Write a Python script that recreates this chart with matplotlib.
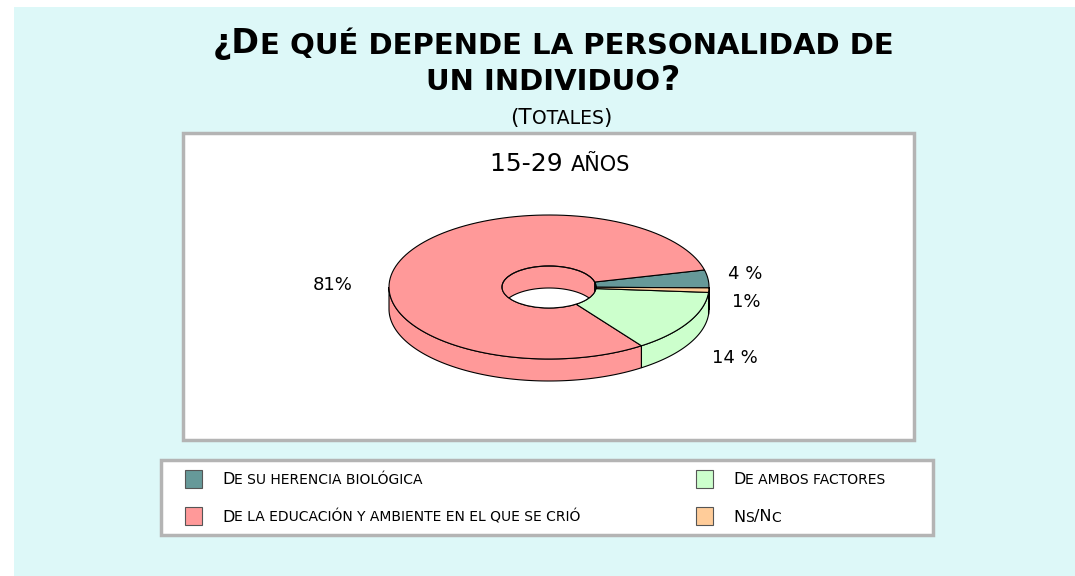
"""Donut chart: ¿De qué depende la personalidad de un individuo? (15-29 años)"""

import numpy as np
import matplotlib
matplotlib.use("Agg")
import matplotlib.pyplot as plt
from matplotlib.patches import Polygon, Rectangle, Ellipse
from matplotlib.offsetbox import TextArea, HPacker, AnnotationBbox

# ---- data ----
categories = [
    "De su herencia biológica",
    "De la educación y ambiente en el que se crió",
    "De ambos factores",
    "Ns/Nc",
]
values = [4, 81, 14, 1]
pct_labels = ["4 %", "81%", "14 %", "1%"]
colors = ["#669999", "#ff9999", "#ccffcc", "#ffcc99"]

title_lines = ["¿De qué depende la personalidad de", "un individuo?"]
subtitle = "(Totales)"
group_title = "15-29 años"

# ---- layout (figure pixels, y down) ----
W, H = 1075, 576
BG = "#ddf8f8"
BORDER = "#b4b4b4"
CX, CY = 549, 287          # pie centre (top face)
RX, RY = 160, 72           # outer ellipse
HX, HY = 47, 21            # hole ellipse
DEPTH = 22
START = -0.7               # degrees
LABEL_POS = [(745, 274), (333, 285), (735, 358), (746, 302)]
FONT = "DejaVu Sans"


def smallcaps(ax, text, x, y, big, small, weight="normal", ha="center"):
    """Draw text in small caps as a row of text runs."""
    runs = []
    for ch in text:
        is_small = ch.islower()
        size = small if is_small else big
        if ch == " " and runs:
            size = runs[-1][1]
        if runs and runs[-1][1] == size:
            runs[-1][0] += ch.upper()
        else:
            runs.append([ch.upper(), size])
    kids = [TextArea(t, textprops=dict(size=s, family=FONT, weight=weight, color="black"))
            for t, s in runs]
    box = HPacker(children=kids, align="baseline", pad=0, sep=0)
    align = {"center": 0.5, "left": 0.0}[ha]
    ab = AnnotationBbox(box, (x, y), xycoords="data", frameon=False,
                        box_alignment=(align, 0.5), pad=0)
    ax.add_artist(ab)


def arc(a0, a1, rx, ry, dy=0.0, n=120):
    t = np.radians(np.linspace(a0, a1, n))
    return np.column_stack([CX + rx * np.cos(t), CY - ry * np.sin(t) + dy])


fig = plt.figure(figsize=(W / 100, H / 100), dpi=100)
fig.patch.set_facecolor("white")
ax = fig.add_axes([0, 0, 1, 1])
ax.set_xlim(0, W)
ax.set_ylim(H, 0)
ax.axis("off")

ax.add_patch(Rectangle((14, 7), W - 14, H - 7, facecolor=BG, edgecolor="none", zorder=0))
# plot area and legend frames
ax.add_patch(Rectangle((183, 133), 731, 307, facecolor="white", edgecolor=BORDER, lw=2.5, zorder=1))
ax.add_patch(Rectangle((161, 460), 772, 75, facecolor="white", edgecolor=BORDER, lw=2.5, zorder=1))

# titles
smallcaps(ax, title_lines[0], 553, 44, 24, 21, weight="bold")
smallcaps(ax, title_lines[1], 553, 80, 24, 21, weight="bold")
smallcaps(ax, subtitle, 561, 118, 15.5, 13.5)
smallcaps(ax, group_title, 560, 164, 18, 15)

# ---- 3D donut ----
fr = np.array(values, dtype=float) / sum(values)
edges = START + 360 * np.concatenate([[0], np.cumsum(fr)])
lw = 0.8

for i, col in enumerate(colors):
    a0, a1 = edges[i], edges[i + 1]
    # outer side wall: visible front half (180..360 deg)
    for off in (0, 360, -360):
        lo, hi = max(a0 + off, 180), min(a1 + off, 360)
        if hi > lo:
            top = arc(lo, hi, RX, RY)
            bot = arc(hi, lo, RX, RY, DEPTH)
            ax.add_patch(Polygon(np.vstack([top, bot]), closed=True, facecolor=col,
                                 edgecolor="black", lw=lw, zorder=2))
    # top face
    pts = np.vstack([arc(a0, a1, RX, RY), arc(a1, a0, HX, HY)])
    ax.add_patch(Polygon(pts, closed=True, facecolor=col, edgecolor="black", lw=lw, zorder=3))

# hole
hole = Ellipse((CX, CY), 2 * HX, 2 * HY, facecolor="white", edgecolor="none", zorder=4)
ax.add_patch(hole)
for i, col in enumerate(colors):
    a0, a1 = edges[i], edges[i + 1]
    for off in (0, 360, -360):
        lo, hi = max(a0 + off, 0), min(a1 + off, 180)
        if hi > lo:
            top = arc(lo, hi, HX, HY)
            bot = arc(hi, lo, HX, HY, DEPTH)
            p = Polygon(np.vstack([top, bot]), closed=True, facecolor=col,
                        edgecolor="black", lw=lw, zorder=5)
            ax.add_patch(p)
            p.set_clip_path(hole)
ax.add_patch(Ellipse((CX, CY), 2 * HX, 2 * HY, facecolor="none", edgecolor="black",
                     lw=lw, zorder=6))

for lab, (x, y) in zip(pct_labels, LABEL_POS):
    ax.text(x, y, lab, ha="center", va="center", fontsize=13, family=FONT, zorder=7)

# ---- legend (two columns, column-major) ----
rows_y = [479, 516]
cols_x = [185, 696]
for i, (cat, col) in enumerate(zip(categories, colors)):
    cx, ry = cols_x[i // 2], rows_y[i % 2]
    ax.add_patch(Rectangle((cx, ry - 9), 17, 18, facecolor=col, edgecolor="#555555",
                           lw=0.8, zorder=3))
    smallcaps(ax, cat, cx + 37, ry + 1, 11.5, 10, ha="left")

fig.savefig("out.png", dpi=100, facecolor=fig.get_facecolor())
